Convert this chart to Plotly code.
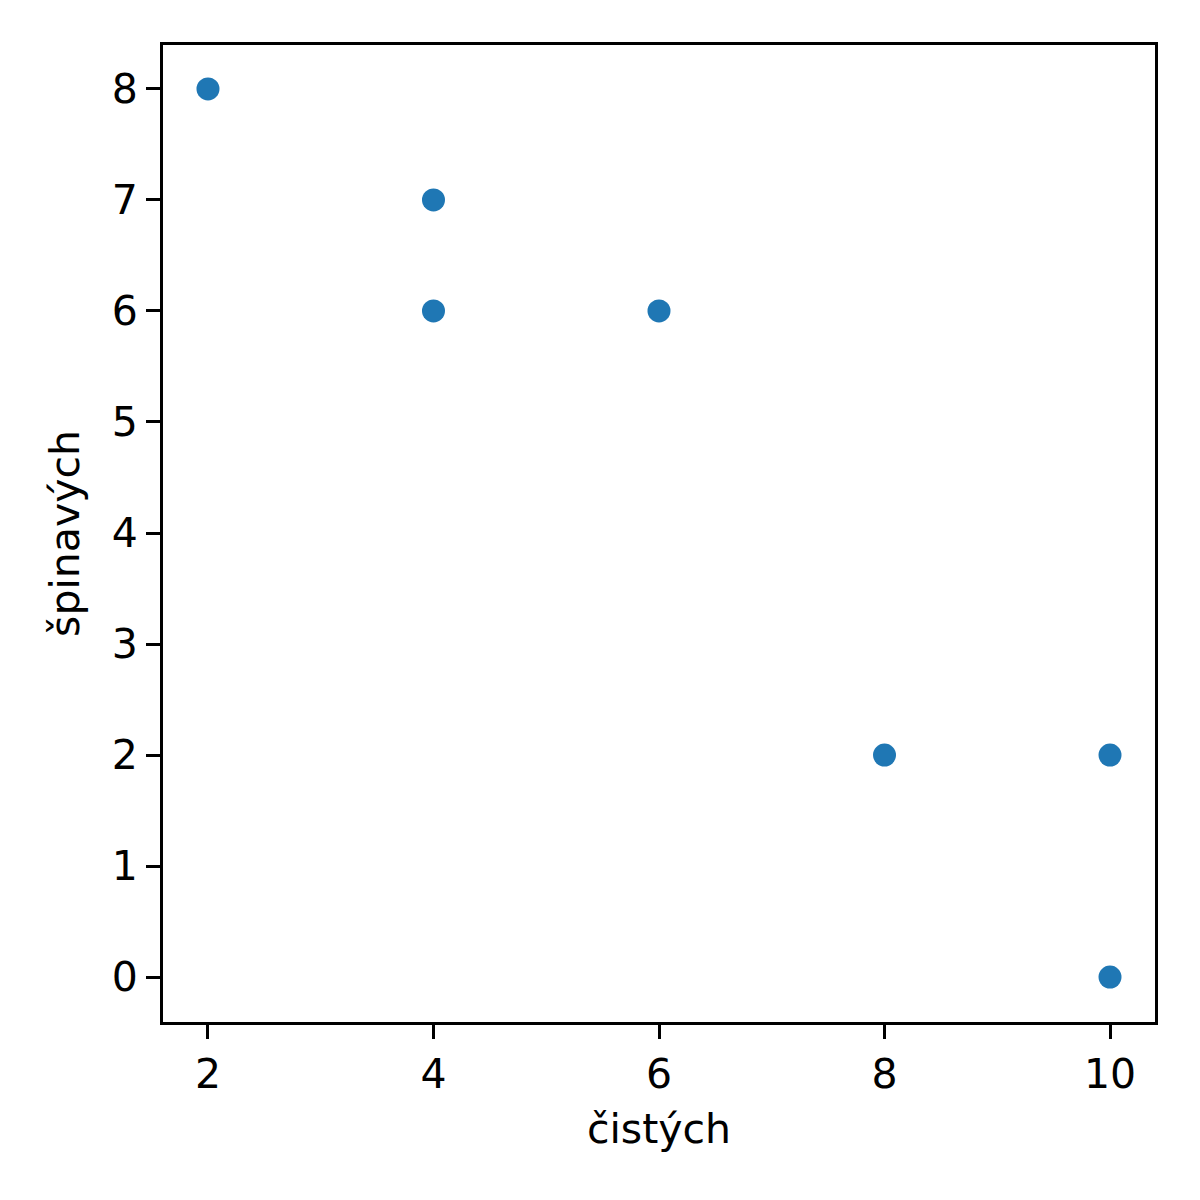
import plotly.graph_objects as go

cistych = [2, 4, 4, 6, 8, 10, 10]
spinavych = [8, 7, 6, 6, 2, 2, 0]
x_ticks = [2, 4, 6, 8, 10]
y_ticks = [0, 1, 2, 3, 4, 5, 6, 7, 8]

fig = go.Figure(go.Scatter(
    x=cistych, y=spinavych, mode="markers",
    marker=dict(color="#1f77b4", size=23, line=dict(width=0)),
))

axis_common = dict(
    showgrid=False, zeroline=False, showline=True, linecolor="black", linewidth=3,
    mirror=True, ticks="outside", ticklen=14, tickwidth=3, tickcolor="black",
    tickfont=dict(family="DejaVu Sans", size=41, color="black"),
)

fig.update_layout(
    width=1200, height=1200,
    margin=dict(l=155, r=53, t=37, b=186),
    paper_bgcolor="white", plot_bgcolor="white",
    showlegend=False,
    font=dict(family="DejaVu Sans", size=41, color="black"),
    xaxis=dict(range=[1.601, 10.399], tickvals=x_ticks, ticktext=[str(v) for v in x_ticks],
               title=dict(text="čistých", font=dict(size=41), standoff=18), **axis_common),
    yaxis=dict(range=[-0.405, 8.396], tickvals=y_ticks, ticktext=[str(v) for v in y_ticks],
               title=dict(text="špinavých", font=dict(size=41), standoff=20), **axis_common),
)

fig.write_html("out.html")
